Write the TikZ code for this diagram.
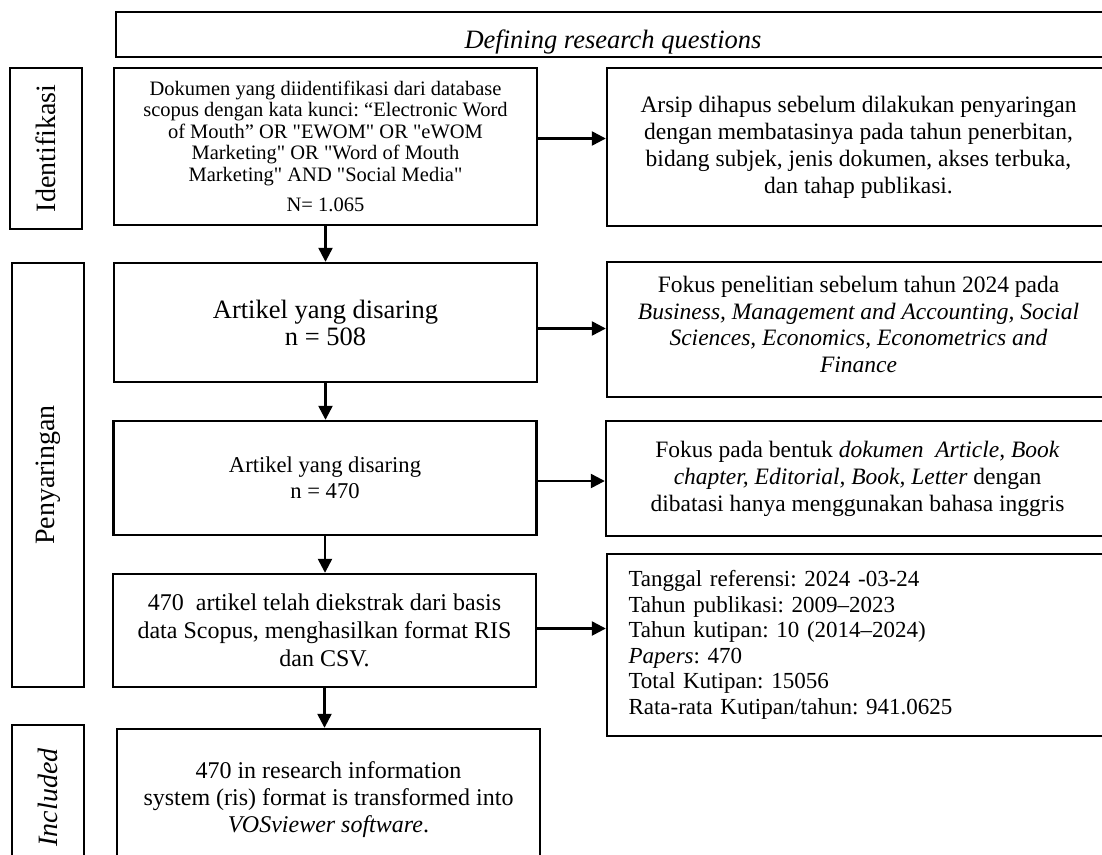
\documentclass[tikz,border=0pt]{standalone}
\usepackage{fontspec}
\setmainfont{Liberation Serif}[Ligatures=TeXOff]
\usetikzlibrary{arrows.meta,calc}
\tikzset{
  box/.style={draw, line width=2.4pt, align=center, inner sep=0pt},
  main/.style={box, minimum width=423pt},
  note/.style={box, minimum width=503pt},
  phase/.style={box, rotate=90, minimum height=72pt, font=\sz{28}{32}},
  flow/.style={-{Triangle[length=14pt, width=14pt]}, line width=2.4pt},
}
\newcommand{\sz}[2]{\fontsize{#1}{#2}\selectfont}

\begin{document}
\frenchspacing
\begin{tikzpicture}[x=1pt, y=-1pt]
  \useasboundingbox (0,0) rectangle (1102,854);
  \clip (0,0) rectangle (1102,854);
  % stages on the left
  \node[phase, minimum width=161pt] (idf) at (46,148.5) {Identifikasi};
  \node[phase, minimum width=424pt] (pny) at (48,475) {Penyaringan};
  \node[phase, minimum width=145pt, font=\sz{28}{32}\itshape] (inc) at (48,797.5) {Included};
  % top bar
  \node[box, minimum width=994pt, minimum height=45pt, font=\sz{26.5}{30}\itshape] (rq) at (613,34.5)
    {\raisebox{-14pt}[0pt][0pt]{Defining research questions}};
  % main column
  \node[main, minimum height=157pt, font=\sz{20.5}{21.5}] (1) at (325.5,146.5)
    {Dokumen yang diidentifikasi dari database\\ scopus dengan kata kunci: “Electronic Word\\
     of Mouth” OR "EWOM" OR "eWOM\\ Marketing" OR "Word of Mouth\\
     Marketing" AND "Social Media"\\[9pt] N= 1.065};
  \node[main, minimum height=119pt, font=\sz{26.5}{27}] (2) at (325.5,322.5)
    {Artikel yang disaring\\ n = 508};
  \node[main, minimum height=114pt, font=\sz{22.6}{26}] (3) at (325,478)
    {Artikel yang disaring\\ n = 470};
  \node[main, minimum height=113pt, font=\sz{24}{28}] (4) at (324.5,630.5)
    {470\ \ artikel telah diekstrak dari basis\\ data Scopus, menghasilkan format RIS\\ dan CSV.};
  \node[main, minimum height=141pt, font=\sz{24}{27}] (5) at (328.5,799.5)
    {470 in research information\\ system (ris) format is transformed into\\ \textit{VOSviewer software}.};
  % notes on the right
  \node[note, minimum height=158pt, font=\sz{23.5}{27}] (6) at (858.5,147)
    {Arsip dihapus sebelum dilakukan penyaringan\\ dengan membatasinya pada tahun penerbitan,\\
     bidang subjek, jenis dokumen, akses terbuka,\\ dan tahap publikasi.};
  \node[note, minimum height=135pt, font=\sz{23.5}{26.5}] (7) at (858.5,329.5)
    {Fokus penelitian sebelum tahun 2024 pada\\ \textit{Business, Management and Accounting, Social}\\
     \textit{Sciences, Economics, Econometrics and}\\ \textit{Finance}\\[-16pt]};
  \node[note, minimum height=115pt, font=\sz{23.5}{27}] (8) at (857.5,478.5)
    {Fokus pada bentuk \textit{dokumen\ \ Article, Book}\\ \textit{chapter, Editorial, Book, Letter} dengan\\
     dibatasi hanya menggunakan bahasa inggris};
  \node[note, minimum height=182pt, text width=460pt, align=left, font=\sz{23}{25.5}] (9) at (858.5,645)
    {Tanggal referensi: 2024 -03-24\\ Tahun publikasi: 2009–2023\\ Tahun kutipan: 10 (2014–2024)\\
     \textit{Papers}: 470\\ Total Kutipan: 15056\\ Rata-rata Kutipan/tahun: 941.0625};
  \foreach \x/\y in {1/2, 2/3, 3/4, 4/5} \draw[flow] (\x.south) -- (\x.south |- \y.north);
  \foreach \x/\y/\s in {1/6/8, 2/7/-6, 3/8/-3, 4/9/2}
    \draw[flow] ([yshift=\s pt]\x.east) -- ([yshift=\s pt]\x.east -| \y.west);
\end{tikzpicture}
\end{document}
